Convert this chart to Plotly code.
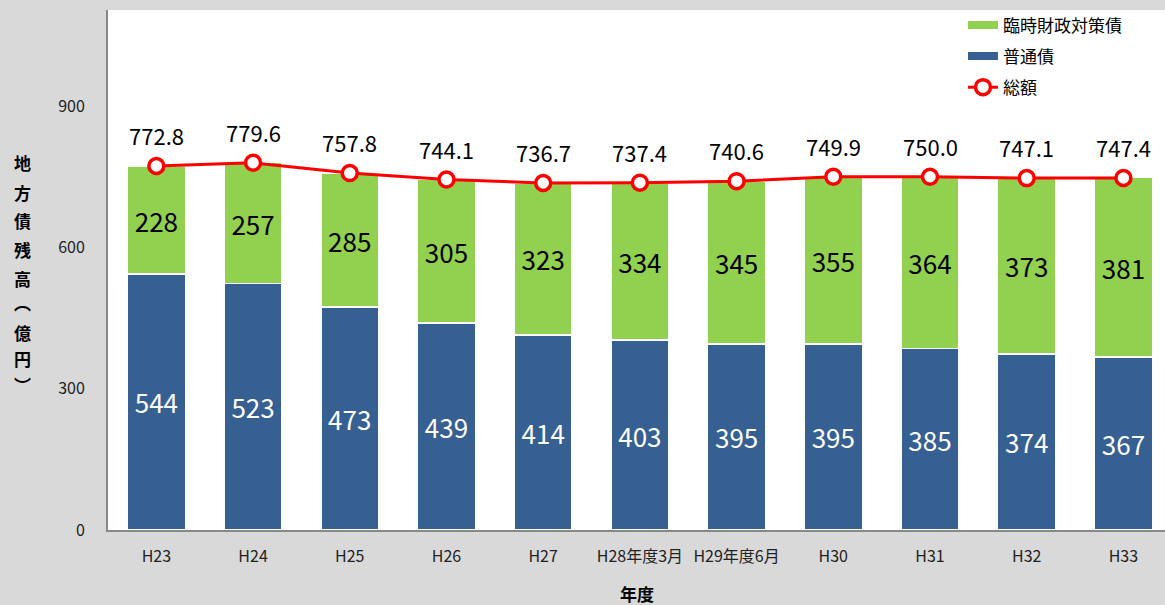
import plotly.graph_objects as go

categories = ["H23", "H24", "H25", "H26", "H27", "H28年度3月", "H29年度6月", "H30", "H31", "H32", "H33"]
futsu = [544, 523, 473, 439, 414, 403, 395, 395, 385, 374, 367]
rinji = [228, 257, 285, 305, 323, 334, 345, 355, 364, 373, 381]
total = [772.8, 779.6, 757.8, 744.1, 736.7, 737.4, 740.6, 749.9, 750.0, 747.1, 747.4]
total_labels = ["772.8", "779.6", "757.8", "744.1", "736.7", "737.4", "740.6", "749.9", "750.0", "747.1", "747.4"]
ytitle_chars = ["地", "方", "債", "残", "高", "︵", "億", "円", "︶"]
ytitle_ypos = [163, 192, 220, 249, 278, 302, 332, 358, 384]

FONT = "Noto Sans CJK JP"
BLUE = "#366092"
GREEN = "#92D050"
RED = "#FF0000"

W, H, L, T, B = 1165, 605, 108, 10, 75

fig = go.Figure()
fig.add_trace(go.Bar(
    x=categories, y=futsu, name="普通債", showlegend=False,
    marker=dict(color=BLUE, line=dict(color="white", width=1.5)),
    width=0.6, text=[str(v) for v in futsu], textposition="inside",
    insidetextanchor="middle", constraintext="none",
    textfont=dict(color="white", size=26, family=FONT),
))
fig.add_trace(go.Bar(
    x=categories, y=rinji, name="臨時財政対策債", showlegend=False,
    marker=dict(color=GREEN, line=dict(color="white", width=1.5)),
    width=0.6, text=[str(v) for v in rinji], textposition="inside",
    insidetextanchor="middle", constraintext="none",
    textfont=dict(color="black", size=26, family=FONT),
))
fig.add_trace(go.Scatter(
    x=categories, y=total, name="総額", mode="lines+markers",
    line=dict(color=RED, width=3),
    marker=dict(size=15, color="white", line=dict(color=RED, width=3.5)),
    legendgroup="c", legendrank=3,
))
# legend-only entries (wide bar symbols like the reference)
fig.add_trace(go.Scatter(x=[None], y=[None], name="臨時財政対策債", mode="lines",
                         line=dict(color=GREEN, width=8), legendgroup="a", legendrank=1))
fig.add_trace(go.Scatter(x=[None], y=[None], name="普通債", mode="lines",
                         line=dict(color=BLUE, width=8), legendgroup="b", legendrank=2))

for c, t, lab in zip(categories, total, total_labels):
    fig.add_annotation(x=c, y=t, text=lab, showarrow=False, yshift=31,
                       font=dict(size=22, color="black", family=FONT))

ph = H - T - B
pw = W - L
for ch, yp in zip(ytitle_chars, ytitle_ypos):
    fig.add_annotation(x=(22 - L) / pw, y=(H - B - yp) / ph, xref="paper", yref="paper",
                       text="<b>" + ch + "</b>", showarrow=False,
                       font=dict(size=17, color="black", family=FONT),
                       xanchor="center", yanchor="middle")

fig.add_annotation(x=0.5, y=(H - B - 593) / ph, xref="paper", yref="paper", text="<b>年度</b>",
                   showarrow=False, font=dict(size=17, color="black", family=FONT), yanchor="middle")

fig.update_layout(
    width=W, height=H,
    barmode="stack",
    paper_bgcolor="#D9D9D9", plot_bgcolor="white",
    margin=dict(l=L, r=0, t=T, b=B),
    font=dict(family=FONT, color="black"),
    showlegend=True,
    legend=dict(x=(963 - L) / pw, y=1.005, xanchor="left", yanchor="top",
                bgcolor="rgba(255,255,255,0)", font=dict(size=17, color="black", family=FONT),
                traceorder="grouped", tracegroupgap=6),
    bargap=0.4,
)
fig.update_xaxes(range=[-0.5, 10.43], showline=True, linecolor="#888888", linewidth=2,
                 showgrid=False, ticks="", tickfont=dict(size=16, color="#222"),
                 ticklabelstandoff=11)
fig.update_yaxes(range=[0, 1104], tickvals=[0, 300, 600, 900], showline=True,
                 linecolor="#888888", linewidth=2, showgrid=False, zeroline=False,
                 ticks="", tickfont=dict(size=16, color="#222"), ticklabelstandoff=18)

fig.write_html("out.html", config={"displayModeBar": False},
               post_script="document.body.style.margin='0';document.body.style.background='#D9D9D9';")
